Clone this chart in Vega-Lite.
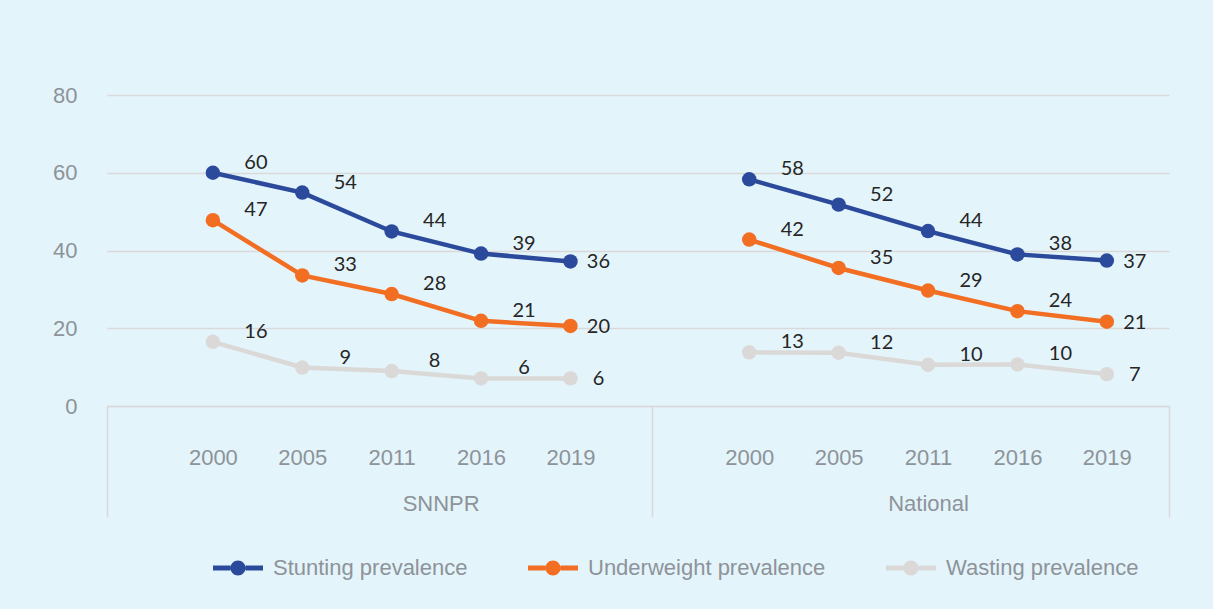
{
  "$schema": "https://vega.github.io/schema/vega-lite/v6.json",
  "autosize": {"type": "none"},
  "width": 1062,
  "height": 311,
  "padding": {"left": 107, "top": 95, "right": 44, "bottom": 203},
  "background": "#e4f4fb",
  "config": {
    "view": {"stroke": null},
    "font": "Liberation Sans"
  },
  "data": {
    "values": [
      {"series": "Stunting prevalence", "region": "SNNPR", "year": "2000", "cat": "SNNPR 2000", "value": 60.0, "label": "60"},
      {"series": "Stunting prevalence", "region": "SNNPR", "year": "2005", "cat": "SNNPR 2005", "value": 54.9, "label": "54"},
      {"series": "Stunting prevalence", "region": "SNNPR", "year": "2011", "cat": "SNNPR 2011", "value": 44.9, "label": "44"},
      {"series": "Stunting prevalence", "region": "SNNPR", "year": "2016", "cat": "SNNPR 2016", "value": 39.2, "label": "39"},
      {"series": "Stunting prevalence", "region": "SNNPR", "year": "2019", "cat": "SNNPR 2019", "value": 37.2, "label": "36"},
      {"series": "Underweight prevalence", "region": "SNNPR", "year": "2000", "cat": "SNNPR 2000", "value": 47.8, "label": "47"},
      {"series": "Underweight prevalence", "region": "SNNPR", "year": "2005", "cat": "SNNPR 2005", "value": 33.6, "label": "33"},
      {"series": "Underweight prevalence", "region": "SNNPR", "year": "2011", "cat": "SNNPR 2011", "value": 28.8, "label": "28"},
      {"series": "Underweight prevalence", "region": "SNNPR", "year": "2016", "cat": "SNNPR 2016", "value": 21.9, "label": "21"},
      {"series": "Underweight prevalence", "region": "SNNPR", "year": "2019", "cat": "SNNPR 2019", "value": 20.6, "label": "20"},
      {"series": "Wasting prevalence", "region": "SNNPR", "year": "2000", "cat": "SNNPR 2000", "value": 16.5, "label": "16"},
      {"series": "Wasting prevalence", "region": "SNNPR", "year": "2005", "cat": "SNNPR 2005", "value": 9.9, "label": "9"},
      {"series": "Wasting prevalence", "region": "SNNPR", "year": "2011", "cat": "SNNPR 2011", "value": 9.0, "label": "8"},
      {"series": "Wasting prevalence", "region": "SNNPR", "year": "2016", "cat": "SNNPR 2016", "value": 7.1, "label": "6"},
      {"series": "Wasting prevalence", "region": "SNNPR", "year": "2019", "cat": "SNNPR 2019", "value": 7.1, "label": "6"},
      {"series": "Stunting prevalence", "region": "National", "year": "2000", "cat": "National 2000", "value": 58.3, "label": "58"},
      {"series": "Stunting prevalence", "region": "National", "year": "2005", "cat": "National 2005", "value": 51.8, "label": "52"},
      {"series": "Stunting prevalence", "region": "National", "year": "2011", "cat": "National 2011", "value": 45.0, "label": "44"},
      {"series": "Stunting prevalence", "region": "National", "year": "2016", "cat": "National 2016", "value": 39.0, "label": "38"},
      {"series": "Stunting prevalence", "region": "National", "year": "2019", "cat": "National 2019", "value": 37.4, "label": "37"},
      {"series": "Underweight prevalence", "region": "National", "year": "2000", "cat": "National 2000", "value": 42.8, "label": "42"},
      {"series": "Underweight prevalence", "region": "National", "year": "2005", "cat": "National 2005", "value": 35.5, "label": "35"},
      {"series": "Underweight prevalence", "region": "National", "year": "2011", "cat": "National 2011", "value": 29.7, "label": "29"},
      {"series": "Underweight prevalence", "region": "National", "year": "2016", "cat": "National 2016", "value": 24.4, "label": "24"},
      {"series": "Underweight prevalence", "region": "National", "year": "2019", "cat": "National 2019", "value": 21.7, "label": "21"},
      {"series": "Wasting prevalence", "region": "National", "year": "2000", "cat": "National 2000", "value": 13.8, "label": "13"},
      {"series": "Wasting prevalence", "region": "National", "year": "2005", "cat": "National 2005", "value": 13.7, "label": "12"},
      {"series": "Wasting prevalence", "region": "National", "year": "2011", "cat": "National 2011", "value": 10.6, "label": "10"},
      {"series": "Wasting prevalence", "region": "National", "year": "2016", "cat": "National 2016", "value": 10.7, "label": "10"},
      {"series": "Wasting prevalence", "region": "National", "year": "2019", "cat": "National 2019", "value": 8.2, "label": "7"}
    ]
  },
  "resolve": {"axis": {"x": "independent"}},
  "layer": [
    {
      "mark": {"type": "line", "strokeWidth": 4.5},
      "encoding": {
        "x": {
          "field": "cat", "type": "ordinal",
          "scale": {"type": "point", "domain": ["SNNPR 2000", "SNNPR 2005", "SNNPR 2011", "SNNPR 2016", "SNNPR 2019", "gap", "National 2000", "National 2005", "National 2011", "National 2016", "National 2019"], "padding": 0.94, "align": 0.63},
          "axis": {
            "orient": "bottom",
            "title": null,
            "values": ["SNNPR 2000", "SNNPR 2005", "SNNPR 2011", "SNNPR 2016", "SNNPR 2019", "National 2000", "National 2005", "National 2011", "National 2016", "National 2019"],
            "labelExpr": "slice(datum.value, -4)",
            "labelAngle": 0,
            "labelFontSize": 22,
            "labelColor": "#8d9399",
            "labelPadding": 41,
            "ticks": false,
            "tickSize": 0,
            "domain": true,
            "domainColor": "#d9d9d9",
            "domainWidth": 1.5,
            "grid": false
          }
        },
        "y": {
          "field": "value", "type": "quantitative",
          "scale": {"domain": [0, 80], "nice": false, "zero": true},
          "axis": {
            "title": null,
            "values": [0, 20, 40, 60, 80],
            "grid": true,
            "gridColor": "#d9d9d9",
            "gridWidth": 1.5,
            "domain": false,
            "ticks": false,
            "labelPadding": 30,
            "labelFontSize": 22,
            "labelColor": "#8d9399"
          }
        },
        "color": {
          "field": "series", "type": "nominal",
          "scale": {"domain": ["Stunting prevalence", "Underweight prevalence", "Wasting prevalence"], "range": ["#2b4a9b", "#f26e22", "#dad9d7"]},
          "legend": {
            "title": null,
            "orient": "none",
            "legendX": 106,
            "legendY": 448,
            "direction": "horizontal",
            "padding": 0,
            "columnPadding": 60,
            "labelLimit": 0,
            "symbolType": "M-1,-0.1H-0.3V0.1H-1Z M0.3,-0.1H1V0.1H0.3Z M0.3,0A0.3,0.3,0,1,1,-0.3,0A0.3,0.3,0,1,1,0.3,0Z",
            "symbolSize": 2500,
            "symbolStrokeWidth": 0,
            "labelFontSize": 22,
            "labelColor": "#8d9399",
            "labelOffset": 10,
            "encode": {"symbols": {"update": {"fill": {"scale": "color", "field": "value"}, "strokeWidth": {"value": 0}, "opacity": {"value": 1}}}}
          }
        },
        "detail": {"field": "region"}
      }
    },
    {
      "mark": {"type": "point", "filled": true, "size": 210, "opacity": 1},
      "encoding": {
        "x": {"field": "cat", "type": "ordinal", "axis": null},
        "y": {"field": "value", "type": "quantitative"},
        "color": {"field": "series", "type": "nominal"}
      }
    },
    {
      "transform": [{"filter": "datum.year != '2019'"}],
      "mark": {"type": "text", "font": "Lato", "fontSize": 20, "color": "#262626", "dx": 43, "dy": -10, "align": "center", "baseline": "middle"},
      "encoding": {
        "x": {"field": "cat", "type": "ordinal", "axis": null},
        "y": {"field": "value", "type": "quantitative"},
        "text": {"field": "label"}
      }
    },
    {
      "transform": [{"filter": "datum.year == '2019'"}],
      "mark": {"type": "text", "font": "Lato", "fontSize": 20, "color": "#262626", "dx": 28, "dy": 1, "align": "center", "baseline": "middle"},
      "encoding": {
        "x": {"field": "cat", "type": "ordinal", "axis": null},
        "y": {"field": "value", "type": "quantitative"},
        "text": {"field": "label"}
      }
    },
    {
      "mark": {"type": "point", "opacity": 0},
      "encoding": {
        "x": {"field": "cat", "type": "ordinal",
          "axis": {
            "orient": "bottom",
            "title": null,
            "values": ["SNNPR 2011"],
            "labelExpr": "split(datum.value, ' ')[0]",
            "labelAngle": 0,
            "labelFontSize": 22,
            "labelColor": "#8d9399",
            "labelPadding": 87,
            "labelOffset": 49,
            "ticks": false,
            "tickSize": 0,
            "domain": false,
            "grid": false
          }
        },
        "y": {"field": "value", "type": "quantitative"}
      }
    },
    {
      "mark": {"type": "point", "opacity": 0},
      "encoding": {
        "x": {"field": "cat", "type": "ordinal",
          "axis": {
            "orient": "bottom",
            "title": null,
            "values": ["National 2011"],
            "labelExpr": "split(datum.value, ' ')[0]",
            "labelAngle": 0,
            "labelFontSize": 22,
            "labelColor": "#8d9399",
            "labelPadding": 87,
            "ticks": false,
            "tickSize": 0,
            "domain": false,
            "grid": false
          }
        },
        "y": {"field": "value", "type": "quantitative"}
      }
    },
    {
      "mark": {"type": "point", "opacity": 0},
      "encoding": {
        "x": {"field": "cat", "type": "ordinal",
          "axis": {"orient": "bottom", "title": null, "values": ["SNNPR 2000"], "labels": false, "domain": false, "grid": false, "ticks": true, "tickSize": 111, "tickOffset": -106, "tickColor": "#d9d9d9", "tickWidth": 1.5}
        },
        "y": {"field": "value", "type": "quantitative"}
      }
    },
    {
      "mark": {"type": "point", "opacity": 0},
      "encoding": {
        "x": {"field": "cat", "type": "ordinal",
          "axis": {"orient": "bottom", "title": null, "values": ["gap"], "labels": false, "domain": false, "grid": false, "ticks": true, "tickSize": 111, "tickOffset": -8, "tickColor": "#d9d9d9", "tickWidth": 1.5}
        },
        "y": {"field": "value", "type": "quantitative"}
      }
    },
    {
      "mark": {"type": "point", "opacity": 0},
      "encoding": {
        "x": {"field": "cat", "type": "ordinal",
          "axis": {"orient": "bottom", "title": null, "values": ["National 2019"], "labels": false, "domain": false, "grid": false, "ticks": true, "tickSize": 111, "tickOffset": 62, "tickColor": "#d9d9d9", "tickWidth": 1.5}
        },
        "y": {"field": "value", "type": "quantitative"}
      }
    }
  ]
}
